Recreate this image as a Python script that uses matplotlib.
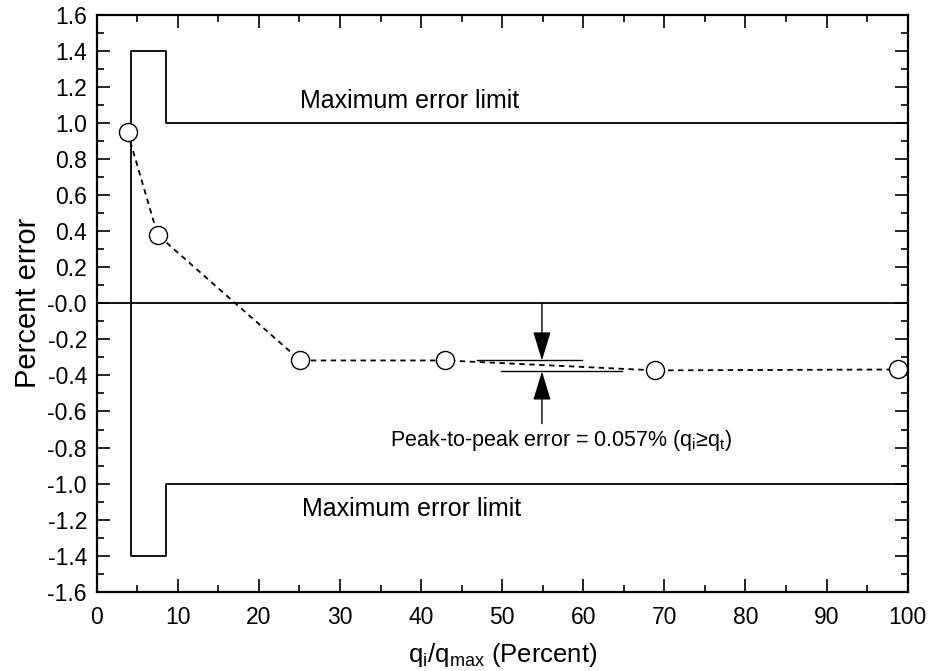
import matplotlib
matplotlib.use("Agg")
import matplotlib.pyplot as plt
import numpy as np
from matplotlib.ticker import MultipleLocator, FuncFormatter

plt.rcParams['font.family'] = ['Liberation Sans', 'DejaVu Sans']

# measured points
flow_pct = [3.8, 7.5, 25.1, 43.0, 68.9, 98.8]
err_pct = [0.95, 0.38, -0.317, -0.317, -0.372, -0.367]

# maximum error limit envelope
limit_x = [100, 8.5, 8.5, 4.2, 4.2, 8.5, 8.5, 100]
limit_y = [1.0, 1.0, 1.4, 1.4, -1.4, -1.4, -1.0, -1.0]

# peak-to-peak markers
peak_hi, peak_lo = -0.317, -0.378
peak_hi_x = [46.9, 59.9]
peak_lo_x = [49.9, 64.8]
arrow_x = 54.9

fig = plt.figure(figsize=(9.3, 6.71), dpi=100)
ax = fig.add_axes([0.104, 0.118, 0.872, 0.860])

ax.plot(limit_x, limit_y, color='black', lw=1.3, zorder=2)
ax.axhline(0.0, color='black', lw=1.3, zorder=2)

ax.plot(flow_pct, err_pct, linestyle=(0, (3, 2.5)), color='black', lw=1.3,
        marker='o', markersize=13, markerfacecolor='white',
        markeredgecolor='black', markeredgewidth=1.0, zorder=4)

ax.plot(peak_hi_x, [peak_hi, peak_hi], color='black', lw=1.0, zorder=3)
ax.plot(peak_lo_x, [peak_lo, peak_lo], color='black', lw=1.0, zorder=3)

arrow_style = dict(arrowstyle='-|>,head_length=1.8,head_width=0.55',
                   color='black', lw=1.0, shrinkA=0, shrinkB=0)
ax.annotate('', xy=(arrow_x, peak_hi), xytext=(arrow_x, 0.0),
            arrowprops=arrow_style, zorder=5)
ax.annotate('', xy=(arrow_x, peak_lo), xytext=(arrow_x, -0.667),
            arrowprops=arrow_style, zorder=5)

ax.text(25.1, 1.12, 'Maximum error limit', fontsize=18, va='center', ha='left')
ax.text(25.3, -1.14, 'Maximum error limit', fontsize=18, va='center', ha='left')
ax.text(78.4, -0.76, 'Peak-to-peak error = 0.057% (q$_\\mathregular{i}$\u2265q$_\\mathregular{t}$)',
        fontsize=15.5, va='center', ha='right')

ax.set_xlim(0, 100)
ax.set_ylim(-1.6, 1.6)
ax.xaxis.set_major_locator(MultipleLocator(10))
ax.xaxis.set_minor_locator(MultipleLocator(5))
ax.yaxis.set_major_locator(MultipleLocator(0.2))
ax.yaxis.set_minor_locator(MultipleLocator(0.1))
ax.yaxis.set_major_formatter(FuncFormatter(lambda v, p: '-0.0' if abs(v) < 1e-9 else f'{v:.1f}'))

ax.tick_params(which='both', direction='in', top=True, right=True, labelsize=16.5, width=1.2)
ax.tick_params(which='major', length=9.5)
ax.tick_params(axis='x', which='major', pad=10)
ax.tick_params(axis='y', which='major', pad=7)
ax.tick_params(which='minor', length=5)
for s in ax.spines.values():
    s.set_linewidth(1.6)

ax.set_xlabel(r'q$_\mathregular{i}$/q$_\mathregular{max}$ (Percent)', fontsize=18.5, labelpad=9)
ax.set_ylabel('Percent error', fontsize=21, labelpad=4)

fig.savefig('out.png', dpi=100)
